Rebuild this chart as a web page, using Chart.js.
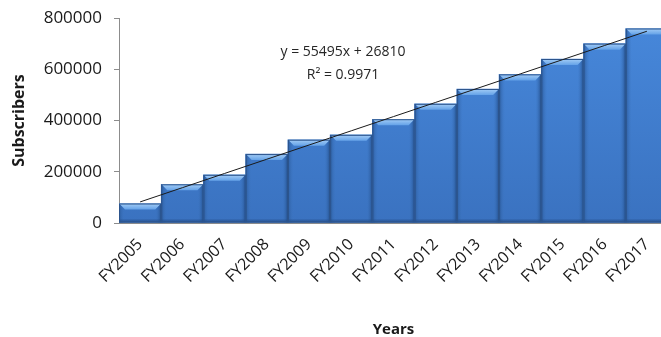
<!DOCTYPE html>
<html>
<head>
<meta charset="utf-8">
<script src="https://cdn.jsdelivr.net/npm/chart.js@4.4.0/dist/chart.umd.min.js"></script>
<style>
  html, body { margin: 0; padding: 0; background: #fff; overflow: hidden; }
  #wrap { width: 668px; height: 337px; }
</style>
</head>
<body>
<div id="wrap"><canvas id="chart" width="668" height="337"></canvas></div>
<script>
// Subscribers per fiscal year
const years = ['FY2005', 'FY2006', 'FY2007', 'FY2008', 'FY2009', 'FY2010', 'FY2011',
    'FY2012', 'FY2013', 'FY2014', 'FY2015', 'FY2016', 'FY2017'];
const subscribers = [76000, 151000, 188000, 269000, 325000, 344000, 405000,
    465000, 523000, 580000, 640000, 700000, 759000];

// Linear trendline, as given in the equation label
const trendSlope = 55495;
const trendIntercept = 26810;
const trendR2 = '0.9971';
const trendValues = years.map((_, i) => trendSlope * (i + 1) + trendIntercept);

const yTicks = [0, 200000, 400000, 600000, 800000];

const FONT = '"Open Sans", "Liberation Sans", sans-serif';

// Bevelled column look: light top edge, darker sides
const bevelBars = {
    id: 'bevelBars',
    afterDatasetDraw(chart, args) {
        if (args.meta.type !== 'bar') return;
        const ctx = chart.ctx;
        const b = 6;
        args.meta.data.forEach(el => {
            const { x, y, width, base } = el.getProps(['x', 'y', 'width', 'base'], true);
            const l = x - width / 2, r = x + width / 2;
            ctx.save();

            // top bevel
            let g = ctx.createLinearGradient(0, y, 0, y + b);
            g.addColorStop(0, '#a4cdf6');
            g.addColorStop(1, '#64a2e8');
            ctx.fillStyle = g;
            ctx.beginPath();
            ctx.moveTo(l, y); ctx.lineTo(r, y); ctx.lineTo(r - b, y + b); ctx.lineTo(l + b, y + b);
            ctx.closePath(); ctx.fill();

            // left side
            g = ctx.createLinearGradient(l, 0, l + b, 0);
            g.addColorStop(0, '#2c5c9e');
            g.addColorStop(1, 'rgba(62,120,196,0)');
            ctx.fillStyle = g;
            ctx.beginPath();
            ctx.moveTo(l, y); ctx.lineTo(l + b, y + b); ctx.lineTo(l + b, base); ctx.lineTo(l, base);
            ctx.closePath(); ctx.fill();

            // right side
            g = ctx.createLinearGradient(r, 0, r - b, 0);
            g.addColorStop(0, '#234f8c');
            g.addColorStop(1, 'rgba(62,120,196,0)');
            ctx.fillStyle = g;
            ctx.beginPath();
            ctx.moveTo(r, y); ctx.lineTo(r - b, y + b); ctx.lineTo(r - b, base); ctx.lineTo(r, base);
            ctx.closePath(); ctx.fill();

            // bottom shade
            g = ctx.createLinearGradient(0, base - 4, 0, base);
            g.addColorStop(0, 'rgba(30,70,130,0)');
            g.addColorStop(1, '#2a5590');
            ctx.fillStyle = g;
            ctx.fillRect(l, base - 4, width, 4);

            ctx.strokeStyle = '#2c548c';
            ctx.lineWidth = 1;
            ctx.strokeRect(l + 0.5, y + 0.5, width - 1, base - y - 1);
            ctx.restore();
        });
    }
};

// Trendline equation text
const trendLabel = {
    id: 'trendLabel',
    afterDraw(chart) {
        const ctx = chart.ctx;
        ctx.save();
        ctx.fillStyle = '#262626';
        ctx.font = '14px ' + FONT;
        ctx.textAlign = 'center';
        ctx.textBaseline = 'middle';
        ctx.fillText('y = ' + trendSlope + 'x + ' + trendIntercept, 343, 52);
        ctx.fillText('R\u00B2 = ' + trendR2, 343, 75);
        ctx.restore();
    }
};

const ctx = document.getElementById('chart').getContext('2d');
new Chart(ctx, {
    data: {
        labels: years,
        datasets: [{
            type: 'bar',
            data: subscribers,
            order: 1,
            barPercentage: 1,
            categoryPercentage: 1,
            borderWidth: 0,
            backgroundColor: (c) => {
                const area = c.chart.chartArea;
                if (!area || !isFinite(area.top) || !isFinite(area.bottom)) return '#3d78c6';
                const g = c.chart.ctx.createLinearGradient(0, area.top, 0, area.bottom);
                g.addColorStop(0, '#4788db');
                g.addColorStop(1, '#3a72c0');
                return g;
            }
        }, {
            type: 'line',
            data: trendValues,
            borderColor: '#1a1a1a',
            borderWidth: 1,
            pointRadius: 0,
            fill: false,
            order: 0
        }]
    },
    options: {
        responsive: false,
        animation: false,
        layout: { padding: { top: 0, right: 0, left: 10, bottom: 0 } },
        plugins: {
            legend: { display: false },
            tooltip: { enabled: false }
        },
        scales: {
            x: {
                afterFit: (s) => { s.height = 114; },
                grid: { display: false },
                border: { display: true, color: '#8c8c8c' },
                ticks: {
                    color: '#1a1a1a',
                    font: { family: FONT, size: 16 },
                    maxRotation: 45,
                    minRotation: 45,
                    padding: 4
                },
                title: {
                    display: true,
                    text: 'Years',
                    color: '#1a1a1a',
                    font: { family: FONT, size: 15, weight: 'bold', lineHeight: 1 },
                    padding: { top: 0, bottom: 0 }
                }
            },
            y: {
                min: 0,
                max: 800000,
                afterFit: (s) => { s.width = 109; s.paddingTop = 18; },
                afterBuildTicks: (s) => { s.ticks = yTicks.map(v => ({ value: v })); },
                grid: {
                    display: true,
                    drawOnChartArea: false,
                    drawTicks: true,
                    tickLength: 5,
                    color: '#8c8c8c'
                },
                border: { display: true, color: '#8c8c8c' },
                ticks: {
                    color: '#1a1a1a',
                    font: { family: FONT, size: 17 },
                    padding: 12,
                    callback: (v) => String(v)
                },
                title: {
                    display: true,
                    text: 'Subscribers',
                    color: '#1a1a1a',
                    font: { family: FONT, size: 16, weight: 'bold' },
                    padding: { top: 0, bottom: 0 }
                }
            }
        }
    },
    plugins: [bevelBars, trendLabel]
});
</script>
</body>
</html>
